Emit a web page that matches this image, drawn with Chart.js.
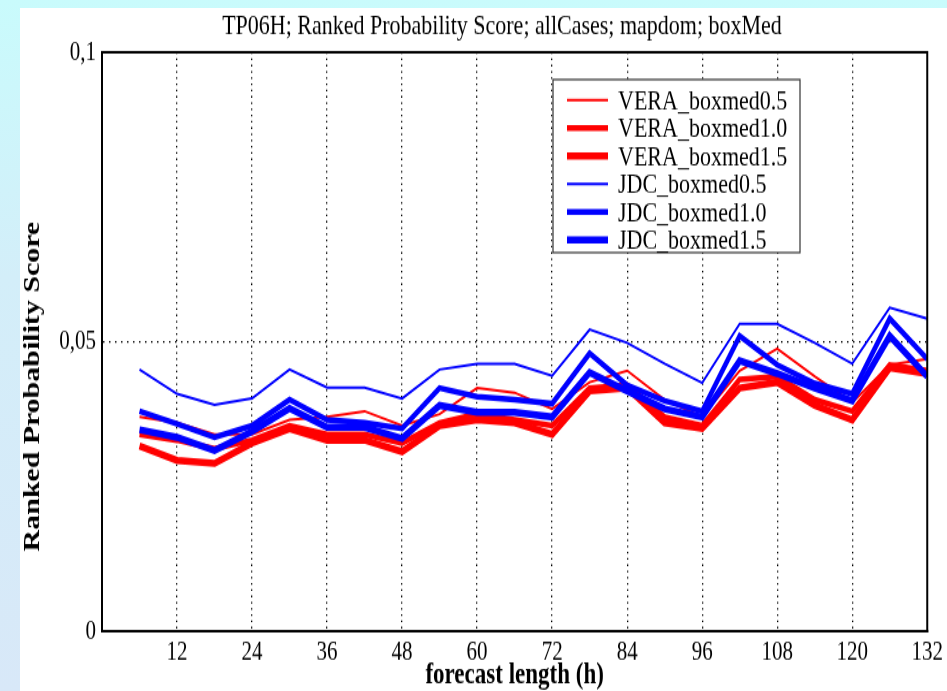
<!DOCTYPE html>
<html>
<head>
<meta charset="utf-8">
<script src="https://cdn.jsdelivr.net/npm/chart.js@4/dist/chart.umd.min.js"></script>
<style>
  html, body { margin: 0; padding: 0; }
  body {
    width: 947px; height: 691px; overflow: hidden;
    background: linear-gradient(180deg, #c9fbfc 0%, #d3eef9 40%, #d8e8f8 100%);
  }
  /* the reference is a vertically stretched plot, so draw flat and stretch */
  #panel {
    position: absolute; left: 20px; top: 8px;
    width: 927px; height: 683px; background: #fff;
  }
  #stretch {
    width: 927px; height: 525px;
    transform: scaleY(1.301); transform-origin: 0 0;
  }
</style>
</head>
<body>
<div id="panel"><div id="stretch"><canvas id="rps" width="927" height="525"></canvas></div></div>
<script>
// forecast lengths (h)
const hours = [6, 12, 18, 24, 30, 36, 42, 48, 54, 60, 66, 72, 78, 84, 90, 96, 102, 108, 114, 120, 126, 132];

const vera05 = [0.0370, 0.0360, 0.0340, 0.0340, 0.0365, 0.0370, 0.0380, 0.0355, 0.0375, 0.0420, 0.0412, 0.0384,
                0.0430, 0.0450, 0.0400, 0.0370, 0.0450, 0.0488, 0.0440, 0.0395, 0.0460, 0.0470];
const vera10 = [0.0340, 0.0330, 0.0315, 0.0330, 0.0355, 0.0340, 0.0340, 0.0325, 0.0360, 0.0375, 0.0365, 0.0355,
                0.0420, 0.0425, 0.0370, 0.0355, 0.0435, 0.0440, 0.0400, 0.0380, 0.0460, 0.0450];
const vera15 = [0.0320, 0.0295, 0.0290, 0.0325, 0.0350, 0.0330, 0.0330, 0.0310, 0.0355, 0.0365, 0.0360, 0.0340,
                0.0415, 0.0420, 0.0360, 0.0350, 0.0420, 0.0430, 0.0390, 0.0365, 0.0455, 0.0445];
const jdc05 = [0.0452, 0.0410, 0.0391, 0.0402, 0.0452, 0.0421, 0.0421, 0.0402, 0.0452, 0.0462, 0.0462, 0.0441,
               0.0521, 0.0498, 0.0462, 0.0429, 0.0531, 0.0531, 0.0498, 0.0462, 0.0559, 0.0540];
const jdc10 = [0.0380, 0.0358, 0.0335, 0.0355, 0.0400, 0.0365, 0.0360, 0.0350, 0.0420, 0.0405, 0.0400, 0.0393,
               0.0480, 0.0425, 0.0398, 0.0380, 0.0510, 0.0460, 0.0428, 0.0410, 0.0540, 0.0470];
const jdc15 = [0.0348, 0.0335, 0.0312, 0.0345, 0.0385, 0.0352, 0.0352, 0.0333, 0.0390, 0.0378, 0.0378, 0.0370,
               0.0447, 0.0415, 0.0384, 0.0370, 0.0467, 0.0445, 0.0420, 0.0398, 0.0510, 0.0440];

const titleText = 'TP06H; Ranked Probability Score; allCases; mapdom; boxMed';
const yTitleText = 'Ranked Probability Score';
const serif = "'Liberation Serif', serif";

const red = '#ff0000';
const blue = '#0000ff';

function pts(values) {
  return hours.map((h, i) => ({ x: h, y: values[i] }));
}

function series(label, values, color, width, order) {
  return {
    label: label,
    data: pts(values),
    borderColor: color,
    backgroundColor: color,
    borderWidth: width,
    pointRadius: 0,
    tension: 0,
    fill: false,
    order: order
  };
}

// title, y title, frame and the boxed legend drawn on top of the plot
const decorations = {
  id: 'decorations',
  afterDatasetsDraw(chart) {
    const { ctx, chartArea } = chart;
    ctx.save();
    ctx.strokeStyle = '#000';
    ctx.lineWidth = 2;
    ctx.strokeRect(chartArea.left, chartArea.top, chartArea.right - chartArea.left, chartArea.bottom - chartArea.top);

    // legend box
    const bx = 533, by = 55, bw = 247, bh = 133;
    ctx.fillStyle = '#fff';
    ctx.fillRect(bx, by, bw, bh);
    ctx.lineWidth = 1.2;
    ctx.strokeStyle = '#333';
    ctx.strokeRect(bx, by, bw, bh);
    ctx.font = '22px ' + serif;
    ctx.textBaseline = 'middle';
    ctx.textAlign = 'left';
    chart.data.datasets.forEach((ds, i) => {
      const y = 70.8 + i * 21.5;
      ctx.beginPath();
      ctx.strokeStyle = ds.borderColor;
      ctx.lineWidth = ds.borderWidth;
      ctx.moveTo(547, y);
      ctx.lineTo(588, y);
      ctx.stroke();
      ctx.fillStyle = '#000';
      ctx.fillText(ds.label, 598, y + 1);
    });
    ctx.restore();
  },
  afterDraw(chart) {
    const { ctx } = chart;
    ctx.save();
    ctx.fillStyle = '#000';
    ctx.textAlign = 'center';
    ctx.font = '22px ' + serif;
    ctx.textBaseline = 'alphabetic';
    ctx.fillText(titleText, 482, 20);

    ctx.font = 'bold 23px ' + serif;
    ctx.textBaseline = 'middle';
    ctx.translate(13, 291);
    ctx.rotate(-Math.PI / 2);
    ctx.fillText(yTitleText, 0, 0);
    ctx.restore();
  }
};

new Chart(document.getElementById('rps'), {
  type: 'line',
  data: {
    datasets: [
      series('VERA_boxmed0.5', vera05, red, 2, 1),
      series('VERA_boxmed1.0', vera10, red, 4.5, 1),
      series('VERA_boxmed1.5', vera15, red, 5.5, 1),
      series('JDC_boxmed0.5', jdc05, blue, 2, 0),
      series('JDC_boxmed1.0', jdc10, blue, 4.5, 0),
      series('JDC_boxmed1.5', jdc15, blue, 5.5, 0)
    ]
  },
  options: {
    responsive: false,
    animation: false,
    layout: { padding: { top: 34, right: 19, left: 0, bottom: 0 } },
    plugins: {
      legend: { display: false },
      tooltip: { enabled: false }
    },
    scales: {
      x: {
        type: 'linear',
        min: 0,
        max: 132,
        afterBuildTicks: (scale) => { scale.ticks = scale.ticks.filter(t => t.value > 0); },
        afterFit: (scale) => { scale.height = 46; },
        ticks: {
          stepSize: 12,
          color: '#000',
          padding: 4,
          maxRotation: 0,
          font: { family: serif, size: 21 }
        },
        grid: {
          drawTicks: false,
          color: (c) => (c.tick && c.tick.value < 132 ? '#000' : 'rgba(0,0,0,0)'),
          lineWidth: 1.3
        },
        border: { display: true, color: '#000', width: 2, dash: [1.3, 3.5] },
        title: {
          display: true,
          text: 'forecast length (h)',
          color: '#000',
          padding: 0,
          font: { family: serif, size: 23, weight: 'bold', lineHeight: 1 }
        }
      },
      y: {
        min: 0,
        max: 0.1,
        afterFit: (scale) => { scale.width = 82; },
        ticks: {
          stepSize: 0.05,
          color: '#000',
          padding: 6,
          font: { family: serif, size: 21 },
          callback: (v) => (v === 0 ? '0' : String(Math.round(v * 100) / 100).replace('.', ','))
        },
        grid: {
          drawTicks: false,
          color: (c) => (c.tick && c.tick.value > 0 && c.tick.value < 0.1 ? '#000' : 'rgba(0,0,0,0)'),
          lineWidth: 1.2
        },
        border: { display: true, color: '#000', width: 2, dash: [1.5, 4.5] }
      }
    }
  },
  plugins: [decorations]
});
</script>
</body>
</html>
